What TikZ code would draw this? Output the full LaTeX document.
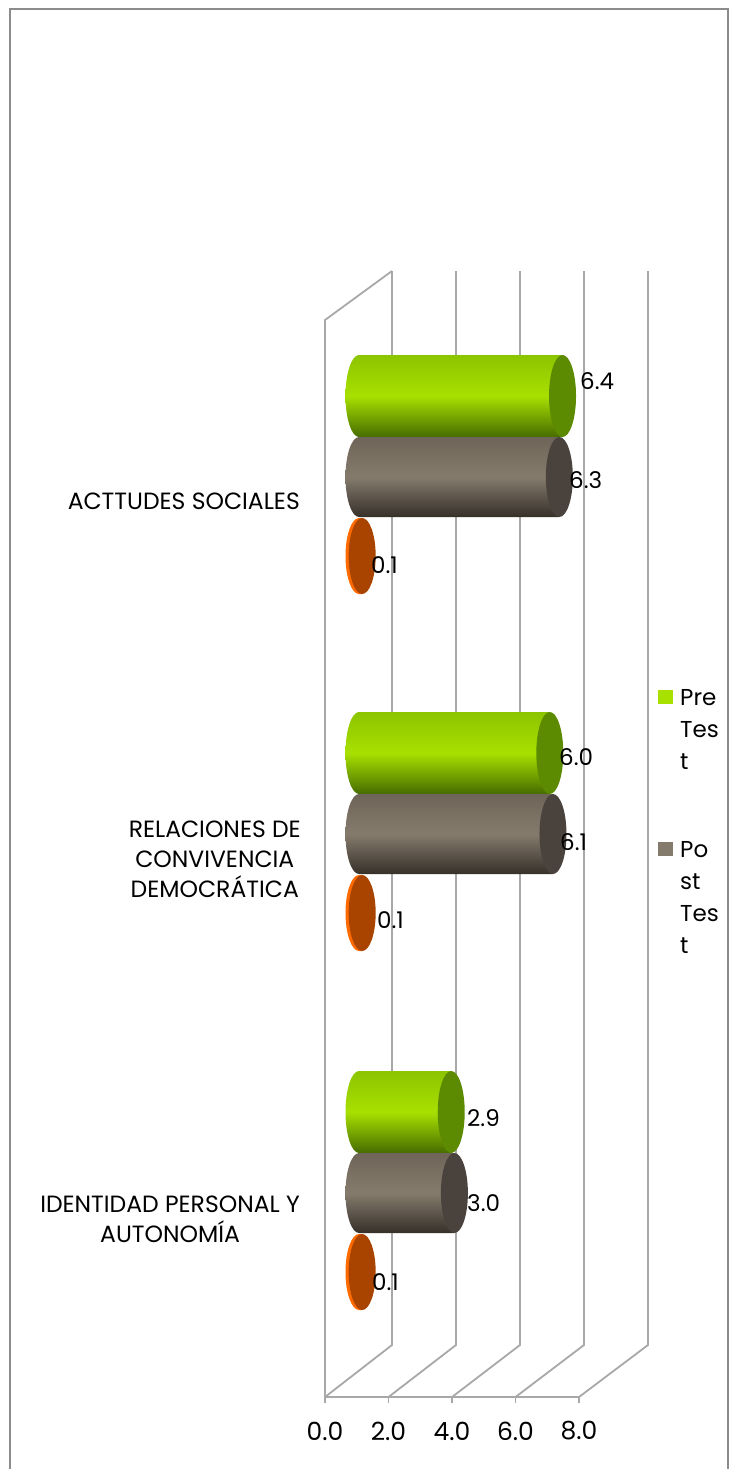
\documentclass[tikz,border=0pt]{standalone}
\usepackage{fontspec}
\setmainfont{Poppins}

\definecolor{pretop}{HTML}{8CC400}
\definecolor{premid}{HTML}{A8E000}
\definecolor{prebot}{HTML}{466C00}
\definecolor{precap}{HTML}{5C8A00}
\definecolor{posttop}{HTML}{6E6558}
\definecolor{postmid}{HTML}{857B6D}
\definecolor{postbot}{HTML}{36302A}
\definecolor{postcap}{HTML}{4A433D}
\definecolor{orrim}{HTML}{FF6A00}
\definecolor{orcap}{HTML}{A84400}
\definecolor{gridgray}{HTML}{A8A8A8}
\definecolor{framegray}{HTML}{8C8C8C}

% cylinder: value, y centre, y radius, series
\newcommand{\cylbar}[4]{%
  \pgfmathsetmacro{\xend}{359+31.8*#1}
  \path[#4 body] (359,#2-#3) -- (\xend,#2-#3) -- (\xend,#2+#3) -- (359,#2+#3)
    arc[start angle=90, end angle=270, x radius=13.5, y radius=#3] -- cycle;
  \path[#4 cap] (\xend,#2) ellipse [x radius=13.5, y radius=#3];
}

\begin{document}
\begin{tikzpicture}[
                    x=1pt, y=-1pt,
                    grid/.style={draw=gridgray, line width=1.8},
                    val/.style={anchor=west, inner sep=0pt, font=\fontsize{23}{26}\selectfont},
                    cat/.style={anchor=east, align=center, inner sep=0pt, font=\fontsize{23.5}{30}\selectfont},
                    leg/.style={anchor=north west, align=left, inner sep=0pt, font=\fontsize{23}{32}\selectfont},
                    tick/.style={inner sep=0pt, font=\fontsize{25}{28}\selectfont},
                    pre body/.style={top color=pretop, bottom color=prebot, middle color=premid},
                    pre cap/.style={fill=precap},
                    post body/.style={top color=posttop, bottom color=postbot, middle color=postmid},
                    post cap/.style={fill=postcap},
                    or body/.style={fill=orrim},
                    or cap/.style={fill=orcap}
                ]
                    \useasboundingbox (0,0) rectangle (734,1469);
                    \draw[draw=framegray, line width=2.2] (10,1500) -- (10,9) -- (728,9) -- (728,1500);

                    % Walls and floor
                    \draw[grid] (325,1397) -- (325,320) -- (392,271);
                    \foreach \i in {0,...,4} {
                        \draw[grid] (392+64*\i,271) -- (392+64*\i,1345) -- (325+63.5*\i,1397);
                        \draw[grid] (325+63.5*\i,1397) -- (325+63.5*\i,1403);
                    }
                    \draw[grid] (325,1397) -- (579,1397);

                    % Bars
                    \foreach \yc/\pre/\post in {396/6.4/6.3, 753/6.0/6.1, 1112/2.9/3.0} {
                        \cylbar{0.1}{\yc+160}{38}{or}
                        \cylbar{\pre}{\yc}{41}{pre}
                        \cylbar{\post}{\yc+81}{40}{post}
                    }

                    % Value labels
                    \node[val] (v1a) at (580,381) {6.4};
                    \node[val] (v1b) at (569,480) {6.3};
                    \node[val] (v1c) at (371,565) {0.1};
                    \node[val] (v2a) at (559,757) {6.0};
                    \node[val] (v2b) at (560,842) {6.1};
                    \node[val] (v2c) at (377,920) {0.1};
                    \node[val] (v3a) at (467,1118) {2.9};
                    \node[val] (v3b) at (467,1203) {3.0};
                    \node[val] (v3c) at (372,1282) {0.1};

                    % Categories
                    \node[cat] (c1) at (300,501) {ACTTUDES SOCIALES};
                    \node[cat] (c2) at (301,859) {RELACIONES DE\\CONVIVENCIA\\DEMOCRÁTICA};
                    \node[cat] (c3) at (300,1219) {IDENTIDAD PERSONAL Y\\AUTONOMÍA};

                    % Axis
                    \foreach \i/\t in {0/0.0, 1/2.0, 2/4.0, 3/6.0, 4/8.0}
                        \node[tick] (t\i) at (325+63.5*\i,1431) {\t};

                    % Legend
                    \fill[premid] (658,690) rectangle (673,704);
                    \fill[postmid] (658,842) rectangle (673,856);
                    \node[leg] (lpre) at (680,689) {Pre\\Tes\\t};
                    \node[leg] (lpost) at (680,841) {Po\\st\\Tes\\t};
                \end{tikzpicture}
\end{document}
